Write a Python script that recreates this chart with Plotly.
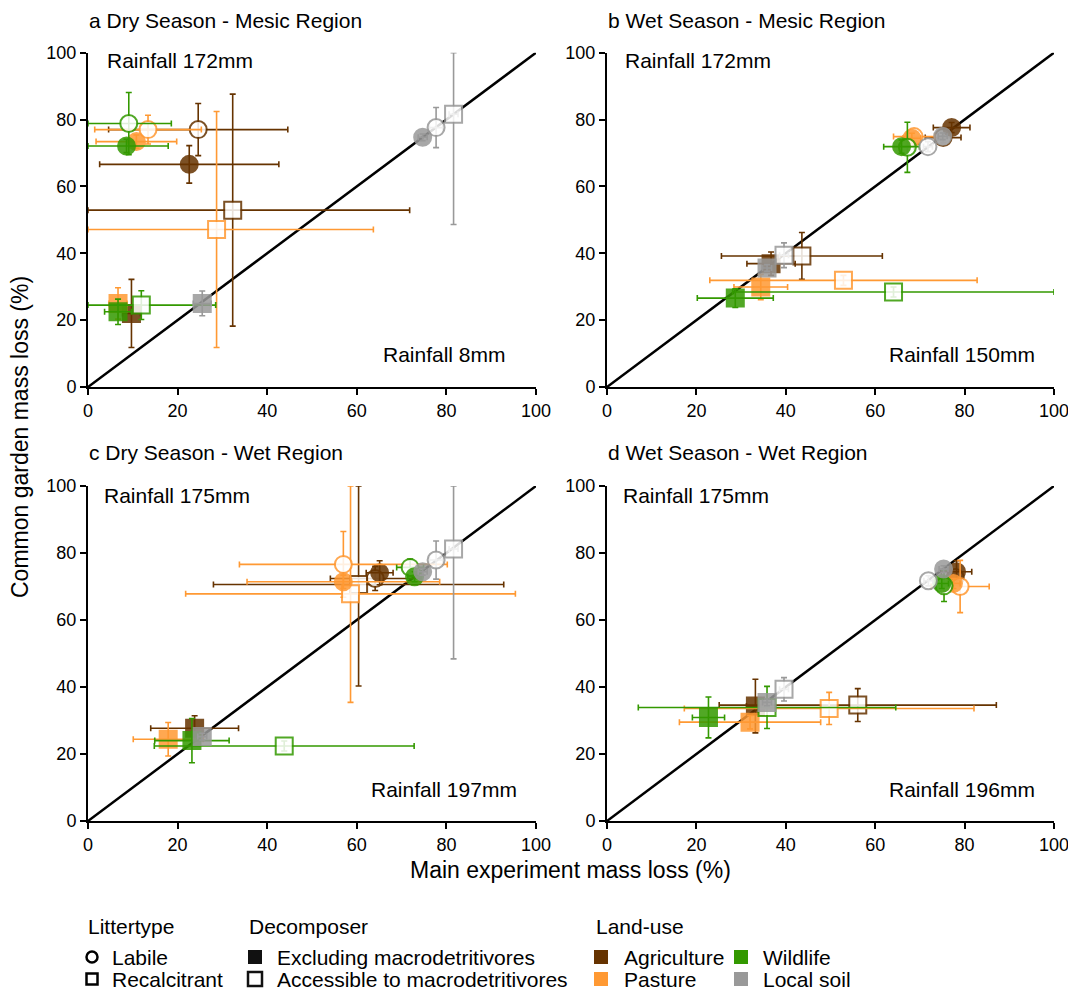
import plotly.graph_objects as go

# ---------------- data ----------------
LANDUSE = ["Agriculture", "Pasture", "Wildlife", "Local soil"]
LU_COLORS = ["#663300", "#FF9933", "#339900", "#999999"]
LITTER = ["Labile", "Recalcitrant"]
DECOMPOSER = ["Excluding macrodetritivores", "Accessible to macrodetritivores"]
PANEL_TITLES = ["a Dry Season - Mesic Region", "b Wet Season - Mesic Region",
                "c Dry Season - Wet Region", "d Wet Season - Wet Region"]
RAIN_TOP = ["Rainfall 172mm", "Rainfall 172mm", "Rainfall 175mm", "Rainfall 175mm"]
RAIN_BOTTOM = ["Rainfall 8mm", "Rainfall 150mm", "Rainfall 197mm", "Rainfall 196mm"]
TICKS = [0, 20, 40, 60, 80, 100]
ONE_TO_ONE = [0, 100]

# order within each land-use: Labile-Excl, Labile-Acc, Recalcitrant-Excl, Recalcitrant-Acc
a_x = [22.6, 24.6, 9.7, 32.3,   10.8, 13.4, 6.7, 28.7,   8.6, 9.1, 6.7, 11.9,   74.7, 77.7, 25.5, 81.6]
a_y = [66.6, 77.0, 22.0, 52.9,  73.4, 77.0, 25.0, 47.1,  72.1, 78.8, 22.5, 24.5,  74.7, 77.6, 25.0, 81.6]
a_xe = [20.0, 20.0, 2.0, 39.5,  9.0, 11.9, 2.0, 35.0,    9.3, 9.5, 3.0, 16.6,   1.0, 1.5, 2.0, 1.0]
a_ye = [5.6, 7.8, 10.2, 34.7,   2.0, 4.3, 4.7, 35.3,     2.0, 9.3, 3.8, 4.3,    1.0, 6.0, 3.7, 33.0]

b_x = [77.1, 75.2, 36.7, 43.6,  68.2, 68.7, 34.4, 52.9,  65.9, 67.2, 28.7, 64.1,  75.1, 71.8, 35.8, 39.6]
b_y = [77.6, 74.6, 36.9, 39.2,  74.4, 74.9, 29.9, 31.9,  71.9, 71.7, 26.6, 28.4,  75.0, 71.9, 35.6, 39.4]
b_xe = [4.1, 4.0, 5.4, 18.0,    2.0, 4.6, 6.0, 29.9,     4.0, 1.5, 8.5, 36.0,   1.0, 1.0, 1.0, 1.0]
b_ye = [1.5, 1.5, 3.5, 7.0,     1.5, 1.5, 3.8, 1.5,      2.0, 7.5, 2.8, 1.5,    1.0, 1.5, 1.0, 3.7]

c_x = [65.1, 64.1, 23.8, 60.4,  57.0, 57.0, 17.9, 58.6,  72.9, 71.9, 23.2, 43.8,  74.7, 77.7, 25.5, 81.6]
c_y = [74.1, 72.4, 27.7, 70.6,  71.4, 76.6, 24.4, 67.8,  72.9, 75.7, 24.0, 22.4,  74.4, 77.9, 25.2, 81.2]
c_xe = [3.0, 10.0, 9.8, 32.4,   21.5, 23.2, 7.8, 36.8,   1.5, 3.0, 8.3, 29.0,   1.0, 1.5, 1.0, 1.0]
c_ye = [3.6, 3.6, 3.7, 30.3,    2.0, 9.8, 5.0, 32.4,     1.5, 2.5, 6.6, 1.5,    1.0, 5.7, 1.0, 32.8]

d_x = [78.2, 77.9, 33.2, 56.1,  77.5, 79.0, 32.0, 49.7,  74.9, 75.4, 22.7, 35.8,  75.3, 71.9, 35.8, 39.6]
d_y = [74.4, 72.7, 34.3, 34.6,  70.9, 70.0, 29.5, 33.6,  70.9, 70.2, 30.9, 33.9,  75.2, 71.7, 35.4, 39.3]
d_xe = [3.4, 1.5, 2.0, 31.0,    1.5, 6.5, 15.8, 32.4,    1.5, 1.5, 3.6, 28.8,   1.0, 1.0, 1.0, 1.0]
d_ye = [3.3, 1.5, 8.0, 4.9,     1.5, 7.8, 2.0, 4.8,      1.5, 4.7, 6.1, 6.3,    1.0, 1.5, 1.0, 3.5]

PANELS = [(a_x, a_y, a_xe, a_ye), (b_x, b_y, b_xe, b_ye),
          (c_x, c_y, c_xe, c_ye), (d_x, d_y, d_xe, d_ye)]

# ---------------- layout constants ----------------
# the page body has an 8px margin, so the figure is sized to fit the window exactly
OFF = 8
W, H = 1076 - OFF, 992 - OFF
FONT = "Arial, Liberation Sans, sans-serif"


def px_x(v):
    return (v - OFF) / W


def px_y(v):
    return 1 - (v - OFF) / H


XD = [[px_x(88), px_x(536)], [px_x(607), px_x(1054)], [px_x(88), px_x(536)], [px_x(607), px_x(1054)]]
YD = [[px_y(387), px_y(52.7)], [px_y(387), px_y(52.7)], [px_y(821), px_y(486)], [px_y(821), px_y(486)]]
TITLE_POS = [(87, 20), (606, 20), (87, 453), (606, 453)]
RAIN_TOP_POS = [(0.038, 0.978), (0.036, 0.978), (0.032, 0.973), (0.031, 0.973)]
RAIN_BOT_POS = [(0.9375, 0.096), (0.962, 0.096), (0.962, 0.0955), (0.962, 0.0955)]


def clip_err(vals, errs):
    plus = [min(e, 100 - v) for v, e in zip(vals, errs)]
    minus = [min(e, v) for v, e in zip(vals, errs)]
    return plus, minus


fig = go.Figure()

for p, (px, py, pxe, pye) in enumerate(PANELS):
    xa = "x" if p == 0 else f"x{p + 1}"
    ya = "y" if p == 0 else f"y{p + 1}"
    fig.add_trace(go.Scatter(x=ONE_TO_ONE, y=ONE_TO_ONE, mode="lines",
                             line=dict(color="black", width=2.5),
                             xaxis=xa, yaxis=ya, showlegend=False, hoverinfo="skip"))
    for i, lu in enumerate(LANDUSE):
        col = LU_COLORS[i]
        for d in (1, 0):
            idx = [i * 4 + 0 + d, i * 4 + 2 + d]
            xs = [px[k] for k in idx]
            ys = [py[k] for k in idx]
            xep, xem = clip_err(xs, [pxe[k] for k in idx])
            yep, yem = clip_err(ys, [pye[k] for k in idx])
            filled = (d == 0)
            fig.add_trace(go.Scatter(
                x=xs, y=ys, mode="markers", xaxis=xa, yaxis=ya, showlegend=False,
                name=f"{lu} - {DECOMPOSER[d]}",
                text=LITTER,
                cliponaxis=False,
                marker=dict(symbol=["circle", "square"], size=17,
                            color=col if filled else "white",
                            opacity=0.85,
                            line=dict(color=col, width=2)),
                error_x=dict(type="data", array=xep, arrayminus=xem, symmetric=False,
                             color=col, thickness=1.6, width=3),
                error_y=dict(type="data", array=yep, arrayminus=yem, symmetric=False,
                             color=col, thickness=1.6, width=3),
            ))

lay = dict(
    width=W, height=H, margin=dict(l=0, r=0, t=0, b=0, autoexpand=False),
    paper_bgcolor="white", plot_bgcolor="white",
    font=dict(family=FONT, size=21, color="black"),
    showlegend=False,
)
for p in range(4):
    xk = "xaxis" if p == 0 else f"xaxis{p + 1}"
    yk = "yaxis" if p == 0 else f"yaxis{p + 1}"
    ya = "y" if p == 0 else f"y{p + 1}"
    xa = "x" if p == 0 else f"x{p + 1}"
    axis_common = dict(range=[0, 100], tickvals=TICKS, showgrid=False, zeroline=False,
                       showline=True, linecolor="black", linewidth=2, ticks="outside",
                       ticklen=6, tickwidth=2, tickcolor="black",
                       tickfont=dict(family=FONT, size=18, color="black"), fixedrange=True)
    lay[xk] = dict(domain=XD[p], anchor=ya, **axis_common)
    lay[yk] = dict(domain=YD[p], anchor=xa, **axis_common)
fig.update_layout(**lay)

annotations = []
for p in range(4):
    xa = "x" if p == 0 else f"x{p + 1}"
    ya = "y" if p == 0 else f"y{p + 1}"
    annotations.append(dict(text=PANEL_TITLES[p], x=px_x(TITLE_POS[p][0]), y=px_y(TITLE_POS[p][1]),
                            xref="paper", yref="paper", xanchor="left", yanchor="middle",
                            showarrow=False, font=dict(size=21)))
    annotations.append(dict(text=RAIN_TOP[p], x=RAIN_TOP_POS[p][0], y=RAIN_TOP_POS[p][1],
                            xref=f"{xa} domain", yref=f"{ya} domain", xanchor="left",
                            yanchor="middle", showarrow=False, font=dict(size=21)))
    annotations.append(dict(text=RAIN_BOTTOM[p], x=RAIN_BOT_POS[p][0], y=RAIN_BOT_POS[p][1],
                            xref=f"{xa} domain", yref=f"{ya} domain", xanchor="right",
                            yanchor="middle", showarrow=False, font=dict(size=21)))
annotations.append(dict(text="Common garden mass loss (%)", x=px_x(20), y=px_y(437), xref="paper",
                        yref="paper", textangle=-90, showarrow=False, font=dict(size=23),
                        xanchor="center", yanchor="middle"))
annotations.append(dict(text="Main experiment mass loss (%)", x=px_x(570), y=px_y(870), xref="paper",
                        yref="paper", showarrow=False, font=dict(size=23),
                        xanchor="center", yanchor="middle"))

# ---------------- legend (text + key glyphs) ----------------
LEG_TITLE_Y = 926
ROW_Y = [957, 979]
legend_titles = [("Littertype", 86), ("Decomposer", 247), ("Land-use", 594)]
for t, x in legend_titles:
    annotations.append(dict(text=t, x=px_x(x), y=px_y(LEG_TITLE_Y), xref="paper", yref="paper",
                            xanchor="left", yanchor="middle", showarrow=False, font=dict(size=21)))

legend_items = [
    # (label, text_x, key_x, row, key_type, colour, filled)
    (LITTER[0], 110, 92, 0, "circle", "black", False),
    (LITTER[1], 110, 92, 1, "rect_small", "black", False),
    (DECOMPOSER[0], 275, 255, 0, "rect", "#111111", True),
    (DECOMPOSER[1], 275, 255, 1, "rect", "#111111", False),
    (LANDUSE[0], 622, 601, 0, "rect", LU_COLORS[0], True),
    (LANDUSE[1], 622, 601, 1, "rect", LU_COLORS[1], True),
    (LANDUSE[2], 761, 741, 0, "rect", LU_COLORS[2], True),
    (LANDUSE[3], 761, 741, 1, "rect", LU_COLORS[3], True),
]
shapes = []
for label, tx, kx, row, ktype, col, filled in legend_items:
    ry = ROW_Y[row]
    annotations.append(dict(text=label, x=px_x(tx), y=px_y(ry), xref="paper", yref="paper",
                            xanchor="left", yanchor="middle", showarrow=False, font=dict(size=21)))
    half = 5.5 if ktype in ("circle", "rect_small") else 7
    shapes.append(dict(
        type="circle" if ktype == "circle" else "rect",
        xref="paper", yref="paper", xsizemode="pixel", ysizemode="pixel",
        xanchor=px_x(kx), yanchor=px_y(ry),
        x0=-half, x1=half, y0=-half, y1=half,
        fillcolor=col if filled else "white",
        line=dict(color=col, width=0 if filled else 2.5),
    ))

fig.update_layout(annotations=annotations, shapes=shapes)

fig.write_html("out.html")
